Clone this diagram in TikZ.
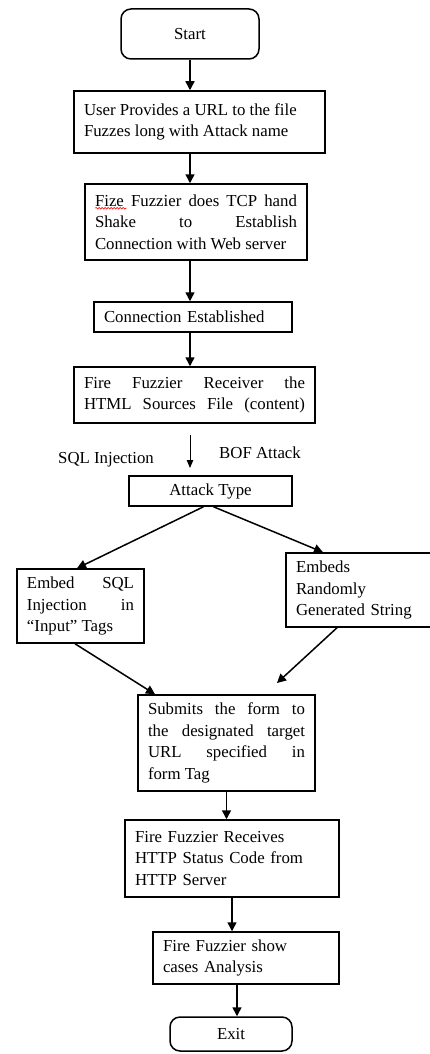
\documentclass[tikz,border=0pt]{standalone}
\usepackage{fontspec}
\setmainfont{Liberation Serif}
\usetikzlibrary{arrows.meta,decorations.pathmorphing}

\begin{document}
\begin{tikzpicture}[x=1pt,y=-1pt,
    every node/.style={font=\fontsize{16.8pt}{21.7pt}\selectfont},
    box/.style={draw,line width=1.5pt,inner xsep=10pt,inner ysep=0pt,align=justify},
    term/.style={draw,line width=1.5pt,rounded corners=10pt,align=center},
    flow/.style={line width=1.5pt,-{Triangle[length=9pt,width=9pt]}},
    thinflow/.style={line width=0.9pt,-{Triangle[length=8pt,width=6.5pt]}}]
  \useasboundingbox (0,0) rectangle (430,1054);

  % main column
  \node[term,minimum width=138pt,minimum height=50pt] (start) at (190,34) {Start};
  \node[box,text width=231pt,minimum height=62pt] (user) at (199.5,122)
    {User Provides a URL to the file\newline Fuzzes long with Attack name};
  \node[box,text width=202pt,minimum height=76pt] (tcp) at (196,222)
    {Fize Fuzzier does TCP hand\linebreak Shake to Establish\linebreak Connection with Web server};
  \node[box,align=left,text width=178pt,minimum height=30pt] (conn) at (193,317)
    {Connection Established};
  \node[box,text width=221pt,minimum height=56pt] (html) at (194.5,395)
    {Fire Fuzzier Receiver the\linebreak \hbox to\hsize{HTML Sources File (content)}};
  \coordinate (split top) at (190,435);
  \coordinate (split bot) at (190,468);
  \node (sqllbl) at (106,460) {SQL Injection};
  \node (boflbl) at (260,453) {BOF Attack};
  \node[box,align=center,minimum width=163pt,minimum height=30pt] (attack) at (210.5,491)
    {Attack Type};

  % two branches
  \node[box,text width=107pt,minimum height=74pt] (embed) at (80.5,606)
    {Embed SQL\linebreak Injection in\linebreak “Input” Tags};
  \node[box,align=left,text width=128pt,minimum height=74pt] (rand) at (360,590)
    {Embeds\\ Randomly\\ Generated String};
  \coordinate (randend) at (277,683);

  % bottom column
  \node[box,text width=157pt,minimum height=96pt] (submit) at (226.5,743)
    {Submits the form to\linebreak the designated target\linebreak URL specified in\linebreak form Tag};
  \node[box,align=left,text width=194pt,minimum height=77pt] (rec) at (232,858.5)
    {Fire Fuzzier Receives\\ HTTP Status Code from\\ HTTP Server};
  \node[box,align=left,text width=166pt,minimum height=52pt] (show) at (246,958)
    {Fire Fuzzier show\\ cases Analysis};
  \node[term,minimum width=122pt,minimum height=34pt] (exit) at (231,1034) {Exit};

  % spell check mark
  \draw[red,line width=0.6pt,decorate,decoration={snake,amplitude=0.8pt,segment length=3pt}]
    ([shift={(11pt,-25pt)}]tcp.north west) -- ([shift={(42pt,-25pt)}]tcp.north west);

  \begin{scope}[flow]
    \draw (start.south) -- (start.south |- user.north);
    \draw (user.south -| start) -- (tcp.north -| start);
    \draw (tcp.south -| start) -- (conn.north -| start);
    \draw (conn.south -| start) -- (html.north -| start);
    \draw[thinflow] (split top) -- (split bot);
    \draw ([xshift=-7pt]attack.south) -- ([xshift=-3.5pt]embed.north);
    \draw ([xshift=3pt]attack.south) -- ([xshift=-37pt]rand.north);
    \draw ([xshift=-5.5pt]embed.south) -- ([xshift=-71.5pt]submit.north);
    \draw ([xshift=-23pt]rand.south) -- (randend);
    \draw (submit.south) -- (submit.south |- rec.north);
    \draw (rec.south) -- (rec.south |- show.north);
    \draw ([xshift=-9pt]show.south) -- ([xshift=6pt]exit.north);
  \end{scope}
\end{tikzpicture}
\end{document}
